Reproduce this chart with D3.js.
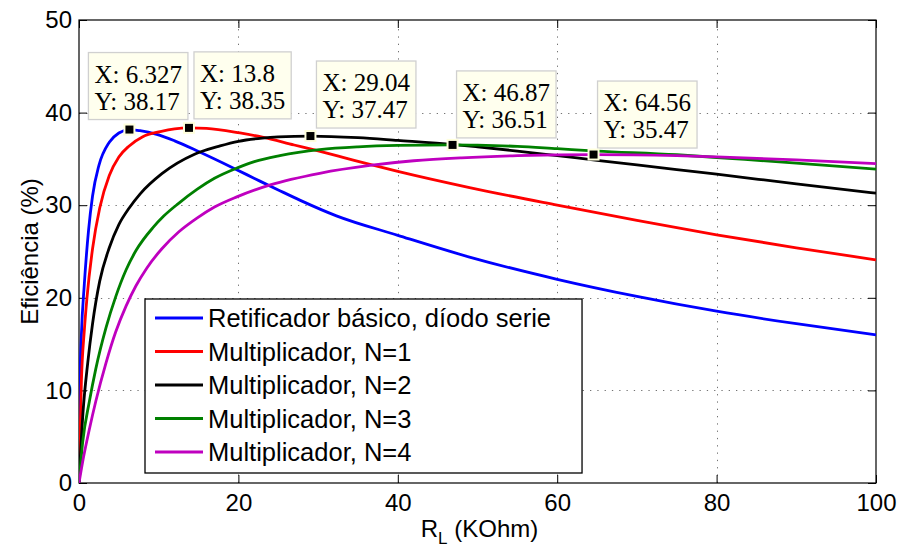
<!DOCTYPE html>
<html>
<head>
<meta charset="utf-8">
<script src="https://cdn.jsdelivr.net/npm/d3@7"></script>
<style>
  body { margin: 0; background: #fff; }
  svg { display: block; }
</style>
</head>
<body>
<svg id="chart" width="900" height="550"></svg>
<script>
// ---- Efficiency (%) versus load resistance R_L (kOhm) ----
const xTicks = [0, 20, 40, 60, 80, 100];
const yTicks = [0, 10, 20, 30, 40, 50];

const seriesNames = [
  "Retificador básico, díodo serie",
  "Multiplicador, N=1",
  "Multiplicador, N=2",
  "Multiplicador, N=3",
  "Multiplicador, N=4"
];
const seriesColors = ["#0000ff", "#ff0000", "#000000", "#008000", "#bf00bf"];

const basicX = [0, 0.1, 0.3, 0.67, 1.2, 1.7, 2.5, 3.8, 5.0, 6.327, 7.65, 9.75, 12, 15, 19.4, 22.7, 25, 27.7, 32.3, 40, 49, 60, 70, 80, 90, 100];
const basicY = [0, 10, 16, 21.5, 27.3, 31.0, 34.3, 36.8, 37.8, 38.17, 38.05, 37.65, 36.95, 35.8, 34.0, 32.6, 31.65, 30.55, 28.85, 26.75, 24.4, 22.0, 20.15, 18.55, 17.2, 16.0];

const mult1X = [0, 0.3, 0.67, 1.0, 1.7, 2.6, 3.8, 5.0, 6.3, 8, 10.2, 12, 13.8, 16, 20.2, 23, 27, 29.4, 33, 36.5, 40, 49, 60, 70, 80, 90, 100];
const mult1Y = [0, 11, 16.5, 20.0, 25.3, 29.7, 33.2, 35.2, 36.4, 37.4, 37.95, 38.25, 38.35, 38.3, 37.8, 37.35, 36.5, 36.0, 35.2, 34.4, 33.65, 31.9, 30.0, 28.35, 26.8, 25.4, 24.1];

const mult2X = [0, 0.5, 1.1, 1.7, 2.6, 3.8, 5.0, 6.3, 7.65, 10.4, 14.5, 17.7, 20, 23, 25, 29.04, 35, 40, 47, 50, 55, 60, 65, 75, 80, 90, 100];
const mult2Y = [0, 7.6, 13.0, 17.2, 21.8, 25.4, 27.9, 29.7, 31.2, 33.4, 35.5, 36.4, 36.9, 37.25, 37.38, 37.47, 37.3, 37.0, 36.55, 36.3, 35.85, 35.35, 34.85, 33.85, 33.35, 32.3, 31.3];

const mult3X = [0, 0.46, 1.3, 2.1, 3.4, 4.6, 5.9, 7.15, 9.3, 10.6, 12.5, 14.8, 17, 19.8, 22, 25.2, 30.2, 35, 40, 46.87, 50, 55, 60, 65, 75, 80, 90, 100];
const mult3Y = [0, 4.4, 8.8, 12.3, 16.8, 20.1, 23.0, 25.1, 27.6, 28.8, 30.2, 31.7, 32.9, 34.0, 34.7, 35.35, 36.0, 36.3, 36.45, 36.51, 36.48, 36.35, 36.1, 35.85, 35.45, 35.15, 34.55, 33.9];

const mult4X = [0, 0.46, 1.3, 2.1, 3.4, 4.6, 5.9, 7.15, 8.5, 10.4, 12.5, 14.8, 17, 19.8, 24, 30.2, 36.5, 42, 48, 55, 60, 64.56, 75, 80, 90, 100];
const mult4Y = [0, 2.3, 5.8, 8.8, 13.0, 16.3, 19.1, 21.3, 23.2, 25.3, 27.1, 28.6, 29.8, 30.9, 32.2, 33.45, 34.3, 34.8, 35.12, 35.35, 35.44, 35.47, 35.35, 35.22, 34.9, 34.5];

const seriesX = [basicX, mult1X, mult2X, mult3X, mult4X];
const seriesY = [basicY, mult1Y, mult2Y, mult3Y, mult4Y];

// data tips at the maximum of each curve
const tipX = [6.327, 13.8, 29.04, 46.87, 64.56];
const tipY = [38.17, 38.35, 37.47, 36.51, 35.47];
const tipXText = ["6.327", "13.8", "29.04", "46.87", "64.56"];
const tipYText = ["38.17", "38.35", "37.47", "36.51", "35.47"];

// ---- layout ----
const plot = { left: 79, right: 876, top: 20, bottom: 483 };
const tipOffsets = [[-41, -77], [5, -76], [6, -75], [4, -74], [4, -73.5]]; // box corner relative to marker
const sansFont = "'Liberation Sans', Arial, Helvetica, sans-serif";
const serifFont = "'Liberation Serif', 'Times New Roman', serif";

const svg = d3.select("#chart");
const x = d3.scaleLinear().domain([0, 100]).range([plot.left, plot.right]);
const y = d3.scaleLinear().domain([0, 50]).range([plot.bottom, plot.top]);

svg.append("rect").attr("width", 900).attr("height", 550).attr("fill", "#fff");

// dotted grid
const grid = svg.append("g")
  .attr("stroke", "#000").attr("stroke-opacity", 0.55)
  .attr("stroke-width", 1).attr("stroke-dasharray", "1.3,6");
grid.selectAll("line.gx").data(xTicks.slice(1, -1)).join("line")
  .attr("x1", d => Math.round(x(d)) + 0.5).attr("x2", d => Math.round(x(d)) + 0.5)
  .attr("y1", plot.bottom).attr("y2", plot.top);
grid.selectAll("line.gy").data(yTicks.slice(1, -1)).join("line")
  .attr("y1", d => Math.round(y(d)) + 0.5).attr("y2", d => Math.round(y(d)) + 0.5)
  .attr("x1", plot.left).attr("x2", plot.right);

// axes with inward ticks on all four sides
function styleAxis(g) {
  g.select(".domain").remove();
  g.selectAll(".tick line").attr("stroke", "#000").attr("stroke-width", 1);
  g.selectAll(".tick text").attr("fill", "#000")
    .style("font-family", sansFont).style("font-size", "24px");
}
svg.append("g").attr("transform", `translate(0,${plot.bottom})`)
  .call(d3.axisBottom(x).tickValues(xTicks).tickSize(-8).tickSizeOuter(0).tickPadding(11))
  .call(styleAxis);
svg.append("g").attr("transform", `translate(0,${plot.top})`)
  .call(d3.axisTop(x).tickValues(xTicks).tickSize(-8).tickSizeOuter(0).tickFormat(""))
  .call(styleAxis);
svg.append("g").attr("transform", `translate(${plot.left},0)`)
  .call(d3.axisLeft(y).tickValues(yTicks).tickSize(-8).tickSizeOuter(0).tickPadding(7))
  .call(styleAxis);
svg.append("g").attr("transform", `translate(${plot.right},0)`)
  .call(d3.axisRight(y).tickValues(yTicks).tickSize(-8).tickSizeOuter(0).tickFormat(""))
  .call(styleAxis);

svg.append("rect")
  .attr("x", plot.left).attr("y", plot.top)
  .attr("width", plot.right - plot.left).attr("height", plot.bottom - plot.top)
  .attr("fill", "none").attr("stroke", "#000").attr("stroke-width", 1.2);

// axis titles
svg.append("text")
  .attr("transform", `translate(38,${(plot.top + plot.bottom) / 2}) rotate(-90)`)
  .attr("text-anchor", "middle")
  .style("font-family", sansFont).style("font-size", "24px")
  .text("Eficiência (%)");

const xt = svg.append("text")
  .attr("x", (plot.left + plot.right) / 2 + 2).attr("y", 537)
  .attr("text-anchor", "middle")
  .style("font-family", sansFont).style("font-size", "24px");
xt.append("tspan").text("R");
xt.append("tspan").attr("dy", 7).style("font-size", "17px").text("L");
xt.append("tspan").attr("dy", -7).text(" (KOhm)");

// curves
svg.append("clipPath").attr("id", "plotClip")
  .append("rect").attr("x", plot.left).attr("y", plot.top)
  .attr("width", plot.right - plot.left).attr("height", plot.bottom - plot.top);

const line = d3.line().x(d => x(d[0])).y(d => y(d[1])).curve(d3.curveMonotoneX);
const curves = svg.append("g").attr("clip-path", "url(#plotClip)");
seriesNames.forEach((name, i) => {
  const pts = seriesX[i].map((v, j) => [v, seriesY[i][j]]);
  curves.append("path").datum(pts)
    .attr("d", line)
    .attr("fill", "none")
    .attr("stroke", seriesColors[i])
    .attr("stroke-width", 2.8)
    .attr("stroke-linejoin", "round");
});

// legend
const legend = svg.append("g");
const legendX = 145, legendY = 299, rowH = 33.5, legendFont = 25.5;
const legendBox = legend.append("rect")
  .attr("x", legendX).attr("y", legendY)
  .attr("fill", "#fff").attr("stroke", "#000").attr("stroke-width", 1.3);
let maxW = 0;
seriesNames.forEach((name, i) => {
  const cy = legendY + 19 + i * rowH;
  legend.append("line")
    .attr("x1", legendX + 10).attr("x2", legendX + 58)
    .attr("y1", cy).attr("y2", cy)
    .attr("stroke", seriesColors[i]).attr("stroke-width", 2.8);
  const t = legend.append("text")
    .attr("x", legendX + 63).attr("y", cy + 9)
    .style("font-family", sansFont).style("font-size", legendFont + "px")
    .text(name);
  maxW = Math.max(maxW, t.node().getComputedTextLength());
});
legendBox.attr("width", 63 + maxW + 31)
  .attr("height", 19 + 4 * rowH + 21);

// data tips
const tips = svg.append("g");
tipX.forEach((tx, i) => {
  const mx = x(tx), my = y(tipY[i]);
  const bx = mx + tipOffsets[i][0], by = my + tipOffsets[i][1];
  const g = tips.append("g");
  const box = g.append("rect")
    .attr("x", bx).attr("y", by).attr("height", 67)
    .attr("fill", "#ffffee").attr("stroke", "#d0d0d0").attr("stroke-width", 1.3);
  const t1 = g.append("text").attr("x", bx + 6).attr("y", by + 30)
    .style("font-family", serifFont).style("font-size", "25px")
    .text("X: " + tipXText[i]);
  const t2 = g.append("text").attr("x", bx + 6).attr("y", by + 57)
    .style("font-family", serifFont).style("font-size", "25px")
    .text("Y: " + tipYText[i]);
  const w = Math.max(t1.node().getComputedTextLength(), t2.node().getComputedTextLength());
  box.attr("width", w + 12);
  g.append("rect")
    .attr("x", mx - 5).attr("y", my - 5).attr("width", 10).attr("height", 10)
    .attr("fill", "#000").attr("stroke", "#ffffdd").attr("stroke-width", 2);
});
</script>
</body>
</html>
